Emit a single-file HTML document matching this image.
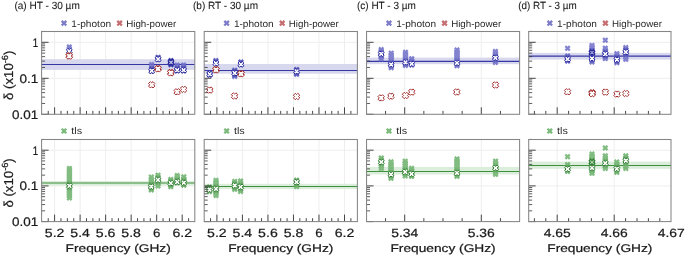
<!DOCTYPE html>
<html><head><meta charset="utf-8"><style>
html,body{margin:0;padding:0;background:#fff;}
body{width:685px;height:256px;overflow:hidden;font-family:"Liberation Sans", sans-serif;}
svg{display:block;will-change:transform;}
text{stroke:#1a1a1a;stroke-width:0.22px;}
text.lg{stroke:none;fill:#2a2a2a;}
text.tt{stroke-width:0.08px;}
</style></head><body>
<svg width="685" height="256" viewBox="0 0 685 256" font-family='"Liberation Sans", sans-serif' text-rendering="geometricPrecision">
<defs><path id="xs" d="M0.00 1.63L-1.37 3.00L-3.00 1.37L-1.63 0.00L-3.00 -1.37L-1.37 -3.00L0.00 -1.63L1.37 -3.00L3.00 -1.37L1.63 0.00L3.00 1.37L1.37 3.00Z"/><path id="xh" d="M0.00 1.56L-1.34 2.90L-2.90 1.34L-1.56 0.00L-2.90 -1.34L-1.34 -2.90L0.00 -1.56L1.34 -2.90L2.90 -1.34L1.56 0.00L2.90 1.34L1.34 2.90Z"/><path id="xr" d="M0.00 1.91L-1.29 3.20L-3.20 1.29L-1.91 0.00L-3.20 -1.29L-1.29 -3.20L0.00 -1.91L1.29 -3.20L3.20 -1.29L1.91 0.00L3.20 1.29L1.29 3.20Z"/></defs>
<rect width="685" height="256" fill="#ffffff"/>
<line x1="41.60" y1="42.30" x2="194.80" y2="42.30" stroke="#eeeeee" stroke-width="1"/>
<line x1="41.60" y1="78.30" x2="194.80" y2="78.30" stroke="#eeeeee" stroke-width="1"/>
<line x1="54.60" y1="31.50" x2="54.60" y2="114.30" stroke="#eeeeee" stroke-width="1"/>
<line x1="80.12" y1="31.50" x2="80.12" y2="114.30" stroke="#eeeeee" stroke-width="1"/>
<line x1="105.64" y1="31.50" x2="105.64" y2="114.30" stroke="#eeeeee" stroke-width="1"/>
<line x1="131.16" y1="31.50" x2="131.16" y2="114.30" stroke="#eeeeee" stroke-width="1"/>
<line x1="156.68" y1="31.50" x2="156.68" y2="114.30" stroke="#eeeeee" stroke-width="1"/>
<line x1="182.20" y1="31.50" x2="182.20" y2="114.30" stroke="#eeeeee" stroke-width="1"/>
<rect x="41.60" y="59.20" width="153.20" height="10.70" fill="#d7d7ed"/>
<line x1="41.60" y1="64.50" x2="194.80" y2="64.50" stroke="#3636a4" stroke-width="1.2"/>
<g fill="#7272ca" opacity="0.88">
<rect x="67.00" y="46.60" width="4.6" height="2.80"/>
<use href="#xs" x="69.30" y="47.00"/>
<use href="#xs" x="69.30" y="49.00"/>
</g>
<use href="#xh" x="69.30" y="51.20" fill="#ffffff" stroke="#25259c" stroke-width="1.00"/>
<g fill="#7272ca" opacity="0.88">
<rect x="149.40" y="64.10" width="4.6" height="7.60"/>
<use href="#xs" x="151.70" y="64.50"/>
<use href="#xs" x="151.70" y="66.77"/>
<use href="#xs" x="151.70" y="69.03"/>
<use href="#xs" x="151.70" y="71.30"/>
</g>
<use href="#xs" x="151.70" y="68.80" fill="#25259c" fill-opacity="0.45"/>
<use href="#xs" x="151.70" y="71.30" fill="#25259c" fill-opacity="0.45"/>
<use href="#xh" x="151.70" y="70.80" fill="#ffffff" stroke="#25259c" stroke-width="1.00"/>
<g fill="#7272ca" opacity="0.88">
<rect x="155.80" y="57.00" width="4.6" height="3.00"/>
<use href="#xs" x="158.10" y="57.40"/>
<use href="#xs" x="158.10" y="59.60"/>
</g>
<use href="#xs" x="158.10" y="57.40" fill="#25259c" fill-opacity="0.45"/>
<use href="#xs" x="158.10" y="59.60" fill="#25259c" fill-opacity="0.45"/>
<use href="#xh" x="158.10" y="59.10" fill="#ffffff" stroke="#25259c" stroke-width="1.00"/>
<g fill="#7272ca" opacity="0.88">
<rect x="168.70" y="60.70" width="4.6" height="4.10"/>
<use href="#xs" x="171.00" y="61.10"/>
<use href="#xs" x="171.00" y="62.75"/>
<use href="#xs" x="171.00" y="64.40"/>
</g>
<use href="#xs" x="171.00" y="60.50" fill="#25259c" fill-opacity="0.55"/>
<use href="#xs" x="171.00" y="64.60" fill="#25259c" fill-opacity="0.55"/>
<use href="#xs" x="171.00" y="61.10" fill="#25259c" fill-opacity="0.45"/>
<use href="#xs" x="171.00" y="64.40" fill="#25259c" fill-opacity="0.45"/>
<use href="#xh" x="171.00" y="62.40" fill="#ffffff" fill-opacity="0.75" stroke="#25259c" stroke-width="1.1"/>
<g fill="#7272ca" opacity="0.88">
<rect x="174.90" y="64.60" width="4.6" height="6.60"/>
<use href="#xs" x="177.20" y="65.00"/>
<use href="#xs" x="177.20" y="66.93"/>
<use href="#xs" x="177.20" y="68.87"/>
<use href="#xs" x="177.20" y="70.80"/>
</g>
<use href="#xs" x="177.20" y="68.20" fill="#25259c" fill-opacity="0.45"/>
<use href="#xs" x="177.20" y="70.80" fill="#25259c" fill-opacity="0.45"/>
<use href="#xh" x="177.20" y="70.20" fill="#ffffff" stroke="#25259c" stroke-width="1.00"/>
<g fill="#7272ca" opacity="0.88">
<rect x="181.30" y="64.60" width="4.6" height="6.60"/>
<use href="#xs" x="183.60" y="65.00"/>
<use href="#xs" x="183.60" y="66.93"/>
<use href="#xs" x="183.60" y="68.87"/>
<use href="#xs" x="183.60" y="70.80"/>
</g>
<use href="#xs" x="183.60" y="68.20" fill="#25259c" fill-opacity="0.45"/>
<use href="#xs" x="183.60" y="70.80" fill="#25259c" fill-opacity="0.45"/>
<use href="#xh" x="183.60" y="70.20" fill="#ffffff" stroke="#25259c" stroke-width="1.00"/>
<use href="#xr" x="69.30" y="55.60" fill="#ffffff" stroke="#a02e2e" stroke-width="1.00"/>
<use href="#xr" x="69.30" y="56.10" fill="#ffffff" stroke="#a02e2e" stroke-width="1.00"/>
<use href="#xr" x="151.70" y="84.80" fill="#ffffff" stroke="#a02e2e" stroke-width="1.00"/>
<use href="#xr" x="158.00" y="68.40" fill="#ffffff" stroke="#a02e2e" stroke-width="1.00"/>
<use href="#xr" x="158.00" y="68.90" fill="#ffffff" stroke="#a02e2e" stroke-width="1.00"/>
<use href="#xr" x="170.80" y="72.40" fill="#ffffff" stroke="#a02e2e" stroke-width="1.00"/>
<use href="#xr" x="170.80" y="72.90" fill="#ffffff" stroke="#a02e2e" stroke-width="1.00"/>
<use href="#xr" x="177.20" y="91.80" fill="#ffffff" stroke="#a02e2e" stroke-width="1.00"/>
<use href="#xr" x="183.60" y="89.40" fill="#ffffff" stroke="#a02e2e" stroke-width="1.00"/>
<line x1="41.60" y1="42.30" x2="48.60" y2="42.30" stroke="#333333" stroke-width="0.9"/>
<line x1="41.60" y1="78.30" x2="48.60" y2="78.30" stroke="#333333" stroke-width="0.9"/>
<line x1="41.60" y1="114.30" x2="48.60" y2="114.30" stroke="#333333" stroke-width="0.9"/>
<line x1="41.60" y1="103.46" x2="45.10" y2="103.46" stroke="#333333" stroke-width="0.8"/>
<line x1="41.60" y1="97.12" x2="45.10" y2="97.12" stroke="#333333" stroke-width="0.8"/>
<line x1="41.60" y1="92.63" x2="45.10" y2="92.63" stroke="#333333" stroke-width="0.8"/>
<line x1="41.60" y1="89.14" x2="45.10" y2="89.14" stroke="#333333" stroke-width="0.8"/>
<line x1="41.60" y1="86.29" x2="45.10" y2="86.29" stroke="#333333" stroke-width="0.8"/>
<line x1="41.60" y1="83.88" x2="45.10" y2="83.88" stroke="#333333" stroke-width="0.8"/>
<line x1="41.60" y1="81.79" x2="45.10" y2="81.79" stroke="#333333" stroke-width="0.8"/>
<line x1="41.60" y1="79.95" x2="45.10" y2="79.95" stroke="#333333" stroke-width="0.8"/>
<line x1="41.60" y1="67.46" x2="45.10" y2="67.46" stroke="#333333" stroke-width="0.8"/>
<line x1="41.60" y1="61.12" x2="45.10" y2="61.12" stroke="#333333" stroke-width="0.8"/>
<line x1="41.60" y1="56.63" x2="45.10" y2="56.63" stroke="#333333" stroke-width="0.8"/>
<line x1="41.60" y1="53.14" x2="45.10" y2="53.14" stroke="#333333" stroke-width="0.8"/>
<line x1="41.60" y1="50.29" x2="45.10" y2="50.29" stroke="#333333" stroke-width="0.8"/>
<line x1="41.60" y1="47.88" x2="45.10" y2="47.88" stroke="#333333" stroke-width="0.8"/>
<line x1="41.60" y1="45.79" x2="45.10" y2="45.79" stroke="#333333" stroke-width="0.8"/>
<line x1="41.60" y1="43.95" x2="45.10" y2="43.95" stroke="#333333" stroke-width="0.8"/>
<line x1="41.60" y1="31.46" x2="45.10" y2="31.46" stroke="#333333" stroke-width="0.8"/>
<line x1="48.22" y1="114.30" x2="48.22" y2="110.90" stroke="#333333" stroke-width="0.9"/>
<line x1="54.60" y1="114.30" x2="54.60" y2="107.30" stroke="#333333" stroke-width="0.9"/>
<line x1="60.98" y1="114.30" x2="60.98" y2="110.90" stroke="#333333" stroke-width="0.9"/>
<line x1="67.36" y1="114.30" x2="67.36" y2="110.90" stroke="#333333" stroke-width="0.9"/>
<line x1="73.74" y1="114.30" x2="73.74" y2="110.90" stroke="#333333" stroke-width="0.9"/>
<line x1="80.12" y1="114.30" x2="80.12" y2="107.30" stroke="#333333" stroke-width="0.9"/>
<line x1="86.50" y1="114.30" x2="86.50" y2="110.90" stroke="#333333" stroke-width="0.9"/>
<line x1="92.88" y1="114.30" x2="92.88" y2="110.90" stroke="#333333" stroke-width="0.9"/>
<line x1="99.26" y1="114.30" x2="99.26" y2="110.90" stroke="#333333" stroke-width="0.9"/>
<line x1="105.64" y1="114.30" x2="105.64" y2="107.30" stroke="#333333" stroke-width="0.9"/>
<line x1="112.02" y1="114.30" x2="112.02" y2="110.90" stroke="#333333" stroke-width="0.9"/>
<line x1="118.40" y1="114.30" x2="118.40" y2="110.90" stroke="#333333" stroke-width="0.9"/>
<line x1="124.78" y1="114.30" x2="124.78" y2="110.90" stroke="#333333" stroke-width="0.9"/>
<line x1="131.16" y1="114.30" x2="131.16" y2="107.30" stroke="#333333" stroke-width="0.9"/>
<line x1="137.54" y1="114.30" x2="137.54" y2="110.90" stroke="#333333" stroke-width="0.9"/>
<line x1="143.92" y1="114.30" x2="143.92" y2="110.90" stroke="#333333" stroke-width="0.9"/>
<line x1="150.30" y1="114.30" x2="150.30" y2="110.90" stroke="#333333" stroke-width="0.9"/>
<line x1="156.68" y1="114.30" x2="156.68" y2="107.30" stroke="#333333" stroke-width="0.9"/>
<line x1="163.06" y1="114.30" x2="163.06" y2="110.90" stroke="#333333" stroke-width="0.9"/>
<line x1="169.44" y1="114.30" x2="169.44" y2="110.90" stroke="#333333" stroke-width="0.9"/>
<line x1="175.82" y1="114.30" x2="175.82" y2="110.90" stroke="#333333" stroke-width="0.9"/>
<line x1="182.20" y1="114.30" x2="182.20" y2="107.30" stroke="#333333" stroke-width="0.9"/>
<line x1="188.58" y1="114.30" x2="188.58" y2="110.90" stroke="#333333" stroke-width="0.9"/>
<rect x="41.60" y="31.50" width="153.20" height="82.80" fill="none" stroke="#858585" stroke-width="1.05"/>
<polygon points="64.00,24.83 62.53,26.30 60.90,24.67 62.37,23.20 60.90,21.73 62.53,20.10 64.00,21.57 65.47,20.10 67.10,21.73 65.63,23.20 67.10,24.67 65.47,26.30" fill="#7c7cc8"/>
<text x="71.30" y="26.90" font-size="9.60" text-anchor="start" fill="#1a1a1a" textLength="39.8" lengthAdjust="spacingAndGlyphs" class="lg">1-photon</text>
<polygon points="119.60,24.83 118.13,26.30 116.50,24.67 117.97,23.20 116.50,21.73 118.13,20.10 119.60,21.57 121.07,20.10 122.70,21.73 121.23,23.20 122.70,24.67 121.07,26.30" fill="#c66e72"/>
<text x="126.20" y="26.90" font-size="9.60" text-anchor="start" fill="#1a1a1a" textLength="50.0" lengthAdjust="spacingAndGlyphs" class="lg">High-power</text>
<text x="38.20" y="47.00" font-size="12.40" text-anchor="end" fill="#1a1a1a" textLength="5.4" lengthAdjust="spacingAndGlyphs">1</text>
<text x="38.20" y="82.60" font-size="12.40" text-anchor="end" fill="#1a1a1a" textLength="18.8" lengthAdjust="spacingAndGlyphs">0.1</text>
<text x="38.20" y="118.50" font-size="12.40" text-anchor="end" fill="#1a1a1a" textLength="26.2" lengthAdjust="spacingAndGlyphs">0.01</text>
<text transform="translate(12.7,75.35) rotate(-90)" x="0" y="0" font-size="13" text-anchor="middle" fill="#1a1a1a" textLength="49.3" lengthAdjust="spacingAndGlyphs">δ (x10<tspan font-size="9" dy="-4.9">-6</tspan><tspan dy="4.9">)</tspan></text>
<line x1="204.20" y1="42.30" x2="357.40" y2="42.30" stroke="#eeeeee" stroke-width="1"/>
<line x1="204.20" y1="78.30" x2="357.40" y2="78.30" stroke="#eeeeee" stroke-width="1"/>
<line x1="216.90" y1="31.50" x2="216.90" y2="114.30" stroke="#eeeeee" stroke-width="1"/>
<line x1="242.42" y1="31.50" x2="242.42" y2="114.30" stroke="#eeeeee" stroke-width="1"/>
<line x1="267.94" y1="31.50" x2="267.94" y2="114.30" stroke="#eeeeee" stroke-width="1"/>
<line x1="293.46" y1="31.50" x2="293.46" y2="114.30" stroke="#eeeeee" stroke-width="1"/>
<line x1="318.98" y1="31.50" x2="318.98" y2="114.30" stroke="#eeeeee" stroke-width="1"/>
<line x1="344.50" y1="31.50" x2="344.50" y2="114.30" stroke="#eeeeee" stroke-width="1"/>
<rect x="204.20" y="64.00" width="153.20" height="9.70" fill="#d7d7ed"/>
<line x1="204.20" y1="70.50" x2="357.40" y2="70.50" stroke="#3636a4" stroke-width="1.2"/>
<g fill="#7272ca" opacity="0.88">
<rect x="207.40" y="73.20" width="4.6" height="2.20"/>
<use href="#xs" x="209.70" y="73.60"/>
<use href="#xs" x="209.70" y="75.00"/>
</g>
<use href="#xs" x="209.70" y="73.60" fill="#25259c" fill-opacity="0.45"/>
<use href="#xs" x="209.70" y="75.00" fill="#25259c" fill-opacity="0.45"/>
<use href="#xh" x="209.70" y="74.30" fill="#ffffff" stroke="#25259c" stroke-width="1.00"/>
<g fill="#7272ca" opacity="0.88">
<rect x="213.60" y="60.20" width="4.6" height="3.20"/>
<use href="#xs" x="215.90" y="60.60"/>
<use href="#xs" x="215.90" y="63.00"/>
</g>
<use href="#xs" x="215.90" y="61.30" fill="#25259c" fill-opacity="0.45"/>
<use href="#xs" x="215.90" y="63.00" fill="#25259c" fill-opacity="0.45"/>
<use href="#xh" x="215.90" y="63.30" fill="#ffffff" stroke="#25259c" stroke-width="1.00"/>
<g fill="#7272ca" opacity="0.88">
<rect x="232.40" y="69.80" width="4.6" height="7.00"/>
<use href="#xs" x="234.70" y="70.20"/>
<use href="#xs" x="234.70" y="72.27"/>
<use href="#xs" x="234.70" y="74.33"/>
<use href="#xs" x="234.70" y="76.40"/>
</g>
<use href="#xs" x="234.70" y="71.10" fill="#25259c" fill-opacity="0.45"/>
<use href="#xs" x="234.70" y="75.10" fill="#25259c" fill-opacity="0.45"/>
<use href="#xh" x="234.70" y="73.10" fill="#ffffff" stroke="#25259c" stroke-width="1.00"/>
<g fill="#7272ca" opacity="0.88">
<rect x="238.60" y="61.60" width="4.6" height="3.20"/>
<use href="#xs" x="240.90" y="62.00"/>
<use href="#xs" x="240.90" y="64.40"/>
</g>
<use href="#xs" x="240.90" y="62.40" fill="#25259c" fill-opacity="0.45"/>
<use href="#xs" x="240.90" y="64.40" fill="#25259c" fill-opacity="0.45"/>
<use href="#xh" x="240.90" y="64.40" fill="#ffffff" stroke="#25259c" stroke-width="1.00"/>
<g fill="#7272ca" opacity="0.88">
<rect x="294.30" y="69.30" width="4.6" height="5.40"/>
<use href="#xs" x="296.60" y="69.70"/>
<use href="#xs" x="296.60" y="72.00"/>
<use href="#xs" x="296.60" y="74.30"/>
</g>
<use href="#xs" x="296.60" y="69.70" fill="#25259c" fill-opacity="0.45"/>
<use href="#xs" x="296.60" y="73.40" fill="#25259c" fill-opacity="0.45"/>
<use href="#xh" x="296.60" y="71.40" fill="#ffffff" stroke="#25259c" stroke-width="1.00"/>
<use href="#xr" x="209.80" y="90.10" fill="#ffffff" stroke="#a02e2e" stroke-width="1.00"/>
<use href="#xr" x="216.00" y="69.40" fill="#ffffff" stroke="#a02e2e" stroke-width="1.00"/>
<use href="#xr" x="216.00" y="69.90" fill="#ffffff" stroke="#a02e2e" stroke-width="1.00"/>
<use href="#xr" x="234.60" y="96.00" fill="#ffffff" stroke="#a02e2e" stroke-width="1.00"/>
<use href="#xr" x="241.00" y="73.40" fill="#ffffff" stroke="#a02e2e" stroke-width="1.00"/>
<use href="#xr" x="241.00" y="73.90" fill="#ffffff" stroke="#a02e2e" stroke-width="1.00"/>
<use href="#xr" x="296.60" y="96.50" fill="#ffffff" stroke="#a02e2e" stroke-width="1.00"/>
<line x1="204.20" y1="42.30" x2="211.20" y2="42.30" stroke="#333333" stroke-width="0.9"/>
<line x1="204.20" y1="78.30" x2="211.20" y2="78.30" stroke="#333333" stroke-width="0.9"/>
<line x1="204.20" y1="114.30" x2="211.20" y2="114.30" stroke="#333333" stroke-width="0.9"/>
<line x1="204.20" y1="103.46" x2="207.70" y2="103.46" stroke="#333333" stroke-width="0.8"/>
<line x1="204.20" y1="97.12" x2="207.70" y2="97.12" stroke="#333333" stroke-width="0.8"/>
<line x1="204.20" y1="92.63" x2="207.70" y2="92.63" stroke="#333333" stroke-width="0.8"/>
<line x1="204.20" y1="89.14" x2="207.70" y2="89.14" stroke="#333333" stroke-width="0.8"/>
<line x1="204.20" y1="86.29" x2="207.70" y2="86.29" stroke="#333333" stroke-width="0.8"/>
<line x1="204.20" y1="83.88" x2="207.70" y2="83.88" stroke="#333333" stroke-width="0.8"/>
<line x1="204.20" y1="81.79" x2="207.70" y2="81.79" stroke="#333333" stroke-width="0.8"/>
<line x1="204.20" y1="79.95" x2="207.70" y2="79.95" stroke="#333333" stroke-width="0.8"/>
<line x1="204.20" y1="67.46" x2="207.70" y2="67.46" stroke="#333333" stroke-width="0.8"/>
<line x1="204.20" y1="61.12" x2="207.70" y2="61.12" stroke="#333333" stroke-width="0.8"/>
<line x1="204.20" y1="56.63" x2="207.70" y2="56.63" stroke="#333333" stroke-width="0.8"/>
<line x1="204.20" y1="53.14" x2="207.70" y2="53.14" stroke="#333333" stroke-width="0.8"/>
<line x1="204.20" y1="50.29" x2="207.70" y2="50.29" stroke="#333333" stroke-width="0.8"/>
<line x1="204.20" y1="47.88" x2="207.70" y2="47.88" stroke="#333333" stroke-width="0.8"/>
<line x1="204.20" y1="45.79" x2="207.70" y2="45.79" stroke="#333333" stroke-width="0.8"/>
<line x1="204.20" y1="43.95" x2="207.70" y2="43.95" stroke="#333333" stroke-width="0.8"/>
<line x1="204.20" y1="31.46" x2="207.70" y2="31.46" stroke="#333333" stroke-width="0.8"/>
<line x1="210.52" y1="114.30" x2="210.52" y2="110.90" stroke="#333333" stroke-width="0.9"/>
<line x1="216.90" y1="114.30" x2="216.90" y2="107.30" stroke="#333333" stroke-width="0.9"/>
<line x1="223.28" y1="114.30" x2="223.28" y2="110.90" stroke="#333333" stroke-width="0.9"/>
<line x1="229.66" y1="114.30" x2="229.66" y2="110.90" stroke="#333333" stroke-width="0.9"/>
<line x1="236.04" y1="114.30" x2="236.04" y2="110.90" stroke="#333333" stroke-width="0.9"/>
<line x1="242.42" y1="114.30" x2="242.42" y2="107.30" stroke="#333333" stroke-width="0.9"/>
<line x1="248.80" y1="114.30" x2="248.80" y2="110.90" stroke="#333333" stroke-width="0.9"/>
<line x1="255.18" y1="114.30" x2="255.18" y2="110.90" stroke="#333333" stroke-width="0.9"/>
<line x1="261.56" y1="114.30" x2="261.56" y2="110.90" stroke="#333333" stroke-width="0.9"/>
<line x1="267.94" y1="114.30" x2="267.94" y2="107.30" stroke="#333333" stroke-width="0.9"/>
<line x1="274.32" y1="114.30" x2="274.32" y2="110.90" stroke="#333333" stroke-width="0.9"/>
<line x1="280.70" y1="114.30" x2="280.70" y2="110.90" stroke="#333333" stroke-width="0.9"/>
<line x1="287.08" y1="114.30" x2="287.08" y2="110.90" stroke="#333333" stroke-width="0.9"/>
<line x1="293.46" y1="114.30" x2="293.46" y2="107.30" stroke="#333333" stroke-width="0.9"/>
<line x1="299.84" y1="114.30" x2="299.84" y2="110.90" stroke="#333333" stroke-width="0.9"/>
<line x1="306.22" y1="114.30" x2="306.22" y2="110.90" stroke="#333333" stroke-width="0.9"/>
<line x1="312.60" y1="114.30" x2="312.60" y2="110.90" stroke="#333333" stroke-width="0.9"/>
<line x1="318.98" y1="114.30" x2="318.98" y2="107.30" stroke="#333333" stroke-width="0.9"/>
<line x1="325.36" y1="114.30" x2="325.36" y2="110.90" stroke="#333333" stroke-width="0.9"/>
<line x1="331.74" y1="114.30" x2="331.74" y2="110.90" stroke="#333333" stroke-width="0.9"/>
<line x1="338.12" y1="114.30" x2="338.12" y2="110.90" stroke="#333333" stroke-width="0.9"/>
<line x1="344.50" y1="114.30" x2="344.50" y2="107.30" stroke="#333333" stroke-width="0.9"/>
<line x1="350.88" y1="114.30" x2="350.88" y2="110.90" stroke="#333333" stroke-width="0.9"/>
<rect x="204.20" y="31.50" width="153.20" height="82.80" fill="none" stroke="#858585" stroke-width="1.05"/>
<polygon points="226.60,24.83 225.13,26.30 223.50,24.67 224.97,23.20 223.50,21.73 225.13,20.10 226.60,21.57 228.07,20.10 229.70,21.73 228.23,23.20 229.70,24.67 228.07,26.30" fill="#7c7cc8"/>
<text x="233.90" y="26.90" font-size="9.60" text-anchor="start" fill="#1a1a1a" textLength="39.8" lengthAdjust="spacingAndGlyphs" class="lg">1-photon</text>
<polygon points="282.20,24.83 280.73,26.30 279.10,24.67 280.57,23.20 279.10,21.73 280.73,20.10 282.20,21.57 283.67,20.10 285.30,21.73 283.83,23.20 285.30,24.67 283.67,26.30" fill="#c66e72"/>
<text x="288.80" y="26.90" font-size="9.60" text-anchor="start" fill="#1a1a1a" textLength="50.0" lengthAdjust="spacingAndGlyphs" class="lg">High-power</text>
<line x1="366.55" y1="42.30" x2="519.60" y2="42.30" stroke="#eeeeee" stroke-width="1"/>
<line x1="366.55" y1="78.30" x2="519.60" y2="78.30" stroke="#eeeeee" stroke-width="1"/>
<line x1="404.70" y1="31.50" x2="404.70" y2="114.30" stroke="#eeeeee" stroke-width="1"/>
<line x1="481.30" y1="31.50" x2="481.30" y2="114.30" stroke="#eeeeee" stroke-width="1"/>
<rect x="366.55" y="57.60" width="153.05" height="6.60" fill="#d7d7ed"/>
<line x1="366.55" y1="61.30" x2="519.60" y2="61.30" stroke="#3636a4" stroke-width="1.2"/>
<g fill="#7272ca" opacity="0.88">
<rect x="378.90" y="49.20" width="4.6" height="10.10"/>
<use href="#xs" x="381.20" y="49.60"/>
<use href="#xs" x="381.20" y="51.46"/>
<use href="#xs" x="381.20" y="53.32"/>
<use href="#xs" x="381.20" y="55.18"/>
<use href="#xs" x="381.20" y="57.04"/>
<use href="#xs" x="381.20" y="58.90"/>
</g>
<use href="#xs" x="381.20" y="51.80" fill="#25259c" fill-opacity="0.16"/>
<use href="#xs" x="381.20" y="55.80" fill="#25259c" fill-opacity="0.16"/>
<use href="#xh" x="381.20" y="53.80" fill="#ffffff" stroke="#25259c" stroke-width="1.00"/>
<g fill="#7272ca" opacity="0.88">
<rect x="388.90" y="52.80" width="4.6" height="15.30"/>
<use href="#xs" x="391.20" y="53.20"/>
<use href="#xs" x="391.20" y="55.27"/>
<use href="#xs" x="391.20" y="57.34"/>
<use href="#xs" x="391.20" y="59.41"/>
<use href="#xs" x="391.20" y="61.49"/>
<use href="#xs" x="391.20" y="63.56"/>
<use href="#xs" x="391.20" y="65.63"/>
<use href="#xs" x="391.20" y="67.70"/>
</g>
<use href="#xs" x="391.20" y="62.50" fill="#25259c" fill-opacity="0.16"/>
<use href="#xs" x="391.20" y="66.50" fill="#25259c" fill-opacity="0.16"/>
<use href="#xh" x="391.20" y="64.50" fill="#ffffff" stroke="#25259c" stroke-width="1.00"/>
<g fill="#7272ca" opacity="0.88">
<rect x="403.20" y="51.90" width="4.6" height="13.90"/>
<use href="#xs" x="405.50" y="52.30"/>
<use href="#xs" x="405.50" y="54.17"/>
<use href="#xs" x="405.50" y="56.04"/>
<use href="#xs" x="405.50" y="57.91"/>
<use href="#xs" x="405.50" y="59.79"/>
<use href="#xs" x="405.50" y="61.66"/>
<use href="#xs" x="405.50" y="63.53"/>
<use href="#xs" x="405.50" y="65.40"/>
</g>
<use href="#xs" x="405.50" y="60.40" fill="#25259c" fill-opacity="0.16"/>
<use href="#xs" x="405.50" y="64.40" fill="#25259c" fill-opacity="0.16"/>
<use href="#xh" x="405.50" y="62.40" fill="#ffffff" stroke="#25259c" stroke-width="1.00"/>
<g fill="#7272ca" opacity="0.88">
<rect x="409.40" y="58.30" width="4.6" height="7.10"/>
<use href="#xs" x="411.70" y="58.70"/>
<use href="#xs" x="411.70" y="60.80"/>
<use href="#xs" x="411.70" y="62.90"/>
<use href="#xs" x="411.70" y="65.00"/>
</g>
<use href="#xs" x="411.70" y="61.80" fill="#25259c" fill-opacity="0.16"/>
<use href="#xs" x="411.70" y="65.00" fill="#25259c" fill-opacity="0.16"/>
<use href="#xh" x="411.70" y="63.80" fill="#ffffff" stroke="#25259c" stroke-width="1.00"/>
<g fill="#7272ca" opacity="0.88">
<rect x="454.70" y="49.50" width="4.6" height="16.60"/>
<use href="#xs" x="457.00" y="49.90"/>
<use href="#xs" x="457.00" y="51.88"/>
<use href="#xs" x="457.00" y="53.85"/>
<use href="#xs" x="457.00" y="55.83"/>
<use href="#xs" x="457.00" y="57.80"/>
<use href="#xs" x="457.00" y="59.78"/>
<use href="#xs" x="457.00" y="61.75"/>
<use href="#xs" x="457.00" y="63.73"/>
<use href="#xs" x="457.00" y="65.70"/>
</g>
<use href="#xs" x="457.00" y="61.00" fill="#25259c" fill-opacity="0.16"/>
<use href="#xs" x="457.00" y="65.00" fill="#25259c" fill-opacity="0.16"/>
<use href="#xh" x="457.00" y="63.00" fill="#ffffff" stroke="#25259c" stroke-width="1.00"/>
<g fill="#7272ca" opacity="0.88">
<rect x="493.10" y="51.00" width="4.6" height="11.80"/>
<use href="#xs" x="495.40" y="51.40"/>
<use href="#xs" x="495.40" y="53.23"/>
<use href="#xs" x="495.40" y="55.07"/>
<use href="#xs" x="495.40" y="56.90"/>
<use href="#xs" x="495.40" y="58.73"/>
<use href="#xs" x="495.40" y="60.57"/>
<use href="#xs" x="495.40" y="62.40"/>
</g>
<use href="#xs" x="495.40" y="55.80" fill="#25259c" fill-opacity="0.16"/>
<use href="#xs" x="495.40" y="59.80" fill="#25259c" fill-opacity="0.16"/>
<use href="#xh" x="495.40" y="57.80" fill="#ffffff" stroke="#25259c" stroke-width="1.00"/>
<use href="#xr" x="381.20" y="97.90" fill="#ffffff" stroke="#a02e2e" stroke-width="1.00"/>
<use href="#xr" x="390.90" y="96.20" fill="#ffffff" stroke="#a02e2e" stroke-width="1.00"/>
<use href="#xr" x="405.50" y="95.50" fill="#ffffff" stroke="#a02e2e" stroke-width="1.00"/>
<use href="#xr" x="411.70" y="92.10" fill="#ffffff" stroke="#a02e2e" stroke-width="1.00"/>
<use href="#xr" x="456.80" y="92.00" fill="#ffffff" stroke="#a02e2e" stroke-width="1.00"/>
<use href="#xr" x="495.50" y="85.00" fill="#ffffff" stroke="#a02e2e" stroke-width="1.00"/>
<line x1="366.55" y1="42.30" x2="373.55" y2="42.30" stroke="#333333" stroke-width="0.9"/>
<line x1="366.55" y1="78.30" x2="373.55" y2="78.30" stroke="#333333" stroke-width="0.9"/>
<line x1="366.55" y1="114.30" x2="373.55" y2="114.30" stroke="#333333" stroke-width="0.9"/>
<line x1="366.55" y1="103.46" x2="370.05" y2="103.46" stroke="#333333" stroke-width="0.8"/>
<line x1="366.55" y1="97.12" x2="370.05" y2="97.12" stroke="#333333" stroke-width="0.8"/>
<line x1="366.55" y1="92.63" x2="370.05" y2="92.63" stroke="#333333" stroke-width="0.8"/>
<line x1="366.55" y1="89.14" x2="370.05" y2="89.14" stroke="#333333" stroke-width="0.8"/>
<line x1="366.55" y1="86.29" x2="370.05" y2="86.29" stroke="#333333" stroke-width="0.8"/>
<line x1="366.55" y1="83.88" x2="370.05" y2="83.88" stroke="#333333" stroke-width="0.8"/>
<line x1="366.55" y1="81.79" x2="370.05" y2="81.79" stroke="#333333" stroke-width="0.8"/>
<line x1="366.55" y1="79.95" x2="370.05" y2="79.95" stroke="#333333" stroke-width="0.8"/>
<line x1="366.55" y1="67.46" x2="370.05" y2="67.46" stroke="#333333" stroke-width="0.8"/>
<line x1="366.55" y1="61.12" x2="370.05" y2="61.12" stroke="#333333" stroke-width="0.8"/>
<line x1="366.55" y1="56.63" x2="370.05" y2="56.63" stroke="#333333" stroke-width="0.8"/>
<line x1="366.55" y1="53.14" x2="370.05" y2="53.14" stroke="#333333" stroke-width="0.8"/>
<line x1="366.55" y1="50.29" x2="370.05" y2="50.29" stroke="#333333" stroke-width="0.8"/>
<line x1="366.55" y1="47.88" x2="370.05" y2="47.88" stroke="#333333" stroke-width="0.8"/>
<line x1="366.55" y1="45.79" x2="370.05" y2="45.79" stroke="#333333" stroke-width="0.8"/>
<line x1="366.55" y1="43.95" x2="370.05" y2="43.95" stroke="#333333" stroke-width="0.8"/>
<line x1="366.55" y1="31.46" x2="370.05" y2="31.46" stroke="#333333" stroke-width="0.8"/>
<line x1="385.55" y1="114.30" x2="385.55" y2="110.90" stroke="#333333" stroke-width="0.9"/>
<line x1="404.70" y1="114.30" x2="404.70" y2="107.30" stroke="#333333" stroke-width="0.9"/>
<line x1="423.85" y1="114.30" x2="423.85" y2="110.90" stroke="#333333" stroke-width="0.9"/>
<line x1="443.00" y1="114.30" x2="443.00" y2="110.90" stroke="#333333" stroke-width="0.9"/>
<line x1="462.15" y1="114.30" x2="462.15" y2="110.90" stroke="#333333" stroke-width="0.9"/>
<line x1="481.30" y1="114.30" x2="481.30" y2="107.30" stroke="#333333" stroke-width="0.9"/>
<line x1="500.45" y1="114.30" x2="500.45" y2="110.90" stroke="#333333" stroke-width="0.9"/>
<rect x="366.55" y="31.50" width="153.05" height="82.80" fill="none" stroke="#858585" stroke-width="1.05"/>
<polygon points="388.95,24.83 387.48,26.30 385.85,24.67 387.32,23.20 385.85,21.73 387.48,20.10 388.95,21.57 390.42,20.10 392.05,21.73 390.58,23.20 392.05,24.67 390.42,26.30" fill="#7c7cc8"/>
<text x="396.25" y="26.90" font-size="9.60" text-anchor="start" fill="#1a1a1a" textLength="39.8" lengthAdjust="spacingAndGlyphs" class="lg">1-photon</text>
<polygon points="444.55,24.83 443.08,26.30 441.45,24.67 442.92,23.20 441.45,21.73 443.08,20.10 444.55,21.57 446.02,20.10 447.65,21.73 446.18,23.20 447.65,24.67 446.02,26.30" fill="#c66e72"/>
<text x="451.15" y="26.90" font-size="9.60" text-anchor="start" fill="#1a1a1a" textLength="50.0" lengthAdjust="spacingAndGlyphs" class="lg">High-power</text>
<line x1="528.70" y1="42.30" x2="671.00" y2="42.30" stroke="#eeeeee" stroke-width="1"/>
<line x1="528.70" y1="78.30" x2="671.00" y2="78.30" stroke="#eeeeee" stroke-width="1"/>
<line x1="557.20" y1="31.50" x2="557.20" y2="114.30" stroke="#eeeeee" stroke-width="1"/>
<line x1="614.20" y1="31.50" x2="614.20" y2="114.30" stroke="#eeeeee" stroke-width="1"/>
<rect x="528.70" y="52.90" width="142.30" height="6.70" fill="#d7d7ed"/>
<line x1="528.70" y1="56.20" x2="671.00" y2="56.20" stroke="#3636a4" stroke-width="1.2"/>
<g fill="#7272ca" opacity="0.88">
<use href="#xs" x="567.60" y="48.30"/>
<rect x="565.30" y="55.60" width="4.6" height="5.70"/>
<use href="#xs" x="567.60" y="56.00"/>
<use href="#xs" x="567.60" y="58.45"/>
<use href="#xs" x="567.60" y="60.90"/>
</g>
<use href="#xs" x="567.60" y="57.20" fill="#25259c" fill-opacity="0.36"/>
<use href="#xs" x="567.60" y="60.90" fill="#25259c" fill-opacity="0.36"/>
<use href="#xh" x="567.60" y="59.20" fill="#ffffff" stroke="#25259c" stroke-width="1.00"/>
<g fill="#7272ca" opacity="0.88">
<rect x="589.70" y="45.00" width="4.6" height="17.40"/>
<use href="#xs" x="592.00" y="45.40"/>
<use href="#xs" x="592.00" y="47.48"/>
<use href="#xs" x="592.00" y="49.55"/>
<use href="#xs" x="592.00" y="51.62"/>
<use href="#xs" x="592.00" y="53.70"/>
<use href="#xs" x="592.00" y="55.77"/>
<use href="#xs" x="592.00" y="57.85"/>
<use href="#xs" x="592.00" y="59.92"/>
<use href="#xs" x="592.00" y="62.00"/>
</g>
<use href="#xs" x="592.00" y="50.60" fill="#25259c" fill-opacity="0.36"/>
<use href="#xs" x="592.00" y="54.60" fill="#25259c" fill-opacity="0.36"/>
<use href="#xs" x="592.00" y="56.50" fill="#25259c" fill-opacity="0.36"/>
<use href="#xs" x="592.00" y="60.50" fill="#25259c" fill-opacity="0.36"/>
<use href="#xh" x="592.00" y="52.60" fill="#ffffff" fill-opacity="0.45" stroke="#25259c" stroke-width="1.1"/>
<use href="#xh" x="592.00" y="58.50" fill="#ffffff" stroke="#25259c" stroke-width="1.00"/>
<g fill="#7272ca" opacity="0.88">
<use href="#xs" x="605.30" y="40.20"/>
<rect x="603.00" y="47.80" width="4.6" height="11.20"/>
<use href="#xs" x="605.30" y="48.20"/>
<use href="#xs" x="605.30" y="50.28"/>
<use href="#xs" x="605.30" y="52.36"/>
<use href="#xs" x="605.30" y="54.44"/>
<use href="#xs" x="605.30" y="56.52"/>
<use href="#xs" x="605.30" y="58.60"/>
</g>
<use href="#xs" x="605.30" y="52.10" fill="#25259c" fill-opacity="0.36"/>
<use href="#xs" x="605.30" y="56.10" fill="#25259c" fill-opacity="0.36"/>
<use href="#xh" x="605.30" y="54.10" fill="#ffffff" stroke="#25259c" stroke-width="1.00"/>
<g fill="#7272ca" opacity="0.88">
<rect x="614.60" y="53.30" width="4.6" height="9.80"/>
<use href="#xs" x="616.90" y="53.70"/>
<use href="#xs" x="616.90" y="55.95"/>
<use href="#xs" x="616.90" y="58.20"/>
<use href="#xs" x="616.90" y="60.45"/>
<use href="#xs" x="616.90" y="62.70"/>
</g>
<use href="#xs" x="616.90" y="57.60" fill="#25259c" fill-opacity="0.36"/>
<use href="#xs" x="616.90" y="61.60" fill="#25259c" fill-opacity="0.36"/>
<use href="#xh" x="616.90" y="59.60" fill="#ffffff" stroke="#25259c" stroke-width="1.00"/>
<g fill="#7272ca" opacity="0.88">
<rect x="623.50" y="47.20" width="4.6" height="12.50"/>
<use href="#xs" x="625.80" y="47.60"/>
<use href="#xs" x="625.80" y="49.55"/>
<use href="#xs" x="625.80" y="51.50"/>
<use href="#xs" x="625.80" y="53.45"/>
<use href="#xs" x="625.80" y="55.40"/>
<use href="#xs" x="625.80" y="57.35"/>
<use href="#xs" x="625.80" y="59.30"/>
</g>
<use href="#xs" x="625.80" y="50.10" fill="#25259c" fill-opacity="0.36"/>
<use href="#xs" x="625.80" y="54.10" fill="#25259c" fill-opacity="0.36"/>
<use href="#xh" x="625.80" y="52.10" fill="#ffffff" stroke="#25259c" stroke-width="1.00"/>
<use href="#xr" x="567.60" y="91.80" fill="#ffffff" stroke="#a02e2e" stroke-width="1.00"/>
<use href="#xr" x="592.20" y="92.70" fill="#ffffff" stroke="#a02e2e" stroke-width="1.00"/>
<use href="#xr" x="592.20" y="93.20" fill="#ffffff" stroke="#a02e2e" stroke-width="1.00"/>
<use href="#xr" x="592.20" y="93.70" fill="#ffffff" stroke="#a02e2e" stroke-width="1.00"/>
<use href="#xr" x="605.40" y="92.10" fill="#ffffff" stroke="#a02e2e" stroke-width="1.00"/>
<use href="#xr" x="617.00" y="94.10" fill="#ffffff" stroke="#a02e2e" stroke-width="1.00"/>
<use href="#xr" x="625.80" y="93.50" fill="#ffffff" stroke="#a02e2e" stroke-width="1.00"/>
<line x1="528.70" y1="42.30" x2="535.70" y2="42.30" stroke="#333333" stroke-width="0.9"/>
<line x1="528.70" y1="78.30" x2="535.70" y2="78.30" stroke="#333333" stroke-width="0.9"/>
<line x1="528.70" y1="114.30" x2="535.70" y2="114.30" stroke="#333333" stroke-width="0.9"/>
<line x1="528.70" y1="103.46" x2="532.20" y2="103.46" stroke="#333333" stroke-width="0.8"/>
<line x1="528.70" y1="97.12" x2="532.20" y2="97.12" stroke="#333333" stroke-width="0.8"/>
<line x1="528.70" y1="92.63" x2="532.20" y2="92.63" stroke="#333333" stroke-width="0.8"/>
<line x1="528.70" y1="89.14" x2="532.20" y2="89.14" stroke="#333333" stroke-width="0.8"/>
<line x1="528.70" y1="86.29" x2="532.20" y2="86.29" stroke="#333333" stroke-width="0.8"/>
<line x1="528.70" y1="83.88" x2="532.20" y2="83.88" stroke="#333333" stroke-width="0.8"/>
<line x1="528.70" y1="81.79" x2="532.20" y2="81.79" stroke="#333333" stroke-width="0.8"/>
<line x1="528.70" y1="79.95" x2="532.20" y2="79.95" stroke="#333333" stroke-width="0.8"/>
<line x1="528.70" y1="67.46" x2="532.20" y2="67.46" stroke="#333333" stroke-width="0.8"/>
<line x1="528.70" y1="61.12" x2="532.20" y2="61.12" stroke="#333333" stroke-width="0.8"/>
<line x1="528.70" y1="56.63" x2="532.20" y2="56.63" stroke="#333333" stroke-width="0.8"/>
<line x1="528.70" y1="53.14" x2="532.20" y2="53.14" stroke="#333333" stroke-width="0.8"/>
<line x1="528.70" y1="50.29" x2="532.20" y2="50.29" stroke="#333333" stroke-width="0.8"/>
<line x1="528.70" y1="47.88" x2="532.20" y2="47.88" stroke="#333333" stroke-width="0.8"/>
<line x1="528.70" y1="45.79" x2="532.20" y2="45.79" stroke="#333333" stroke-width="0.8"/>
<line x1="528.70" y1="43.95" x2="532.20" y2="43.95" stroke="#333333" stroke-width="0.8"/>
<line x1="528.70" y1="31.46" x2="532.20" y2="31.46" stroke="#333333" stroke-width="0.8"/>
<line x1="534.40" y1="114.30" x2="534.40" y2="110.90" stroke="#333333" stroke-width="0.9"/>
<line x1="545.80" y1="114.30" x2="545.80" y2="110.90" stroke="#333333" stroke-width="0.9"/>
<line x1="557.20" y1="114.30" x2="557.20" y2="107.30" stroke="#333333" stroke-width="0.9"/>
<line x1="568.60" y1="114.30" x2="568.60" y2="110.90" stroke="#333333" stroke-width="0.9"/>
<line x1="580.00" y1="114.30" x2="580.00" y2="110.90" stroke="#333333" stroke-width="0.9"/>
<line x1="591.40" y1="114.30" x2="591.40" y2="110.90" stroke="#333333" stroke-width="0.9"/>
<line x1="602.80" y1="114.30" x2="602.80" y2="110.90" stroke="#333333" stroke-width="0.9"/>
<line x1="614.20" y1="114.30" x2="614.20" y2="107.30" stroke="#333333" stroke-width="0.9"/>
<line x1="625.60" y1="114.30" x2="625.60" y2="110.90" stroke="#333333" stroke-width="0.9"/>
<line x1="637.00" y1="114.30" x2="637.00" y2="110.90" stroke="#333333" stroke-width="0.9"/>
<line x1="648.40" y1="114.30" x2="648.40" y2="110.90" stroke="#333333" stroke-width="0.9"/>
<line x1="659.80" y1="114.30" x2="659.80" y2="110.90" stroke="#333333" stroke-width="0.9"/>
<rect x="528.70" y="31.50" width="142.30" height="82.80" fill="none" stroke="#858585" stroke-width="1.05"/>
<polygon points="549.80,24.83 548.33,26.30 546.70,24.67 548.17,23.20 546.70,21.73 548.33,20.10 549.80,21.57 551.27,20.10 552.90,21.73 551.43,23.20 552.90,24.67 551.27,26.30" fill="#7c7cc8"/>
<text x="557.10" y="26.90" font-size="9.60" text-anchor="start" fill="#1a1a1a" textLength="39.8" lengthAdjust="spacingAndGlyphs" class="lg">1-photon</text>
<polygon points="605.40,24.83 603.93,26.30 602.30,24.67 603.77,23.20 602.30,21.73 603.93,20.10 605.40,21.57 606.87,20.10 608.50,21.73 607.03,23.20 608.50,24.67 606.87,26.30" fill="#c66e72"/>
<text x="612.00" y="26.90" font-size="9.60" text-anchor="start" fill="#1a1a1a" textLength="50.0" lengthAdjust="spacingAndGlyphs" class="lg">High-power</text>
<line x1="41.60" y1="150.20" x2="194.80" y2="150.20" stroke="#eeeeee" stroke-width="1"/>
<line x1="41.60" y1="185.90" x2="194.80" y2="185.90" stroke="#eeeeee" stroke-width="1"/>
<line x1="54.60" y1="139.50" x2="54.60" y2="221.60" stroke="#eeeeee" stroke-width="1"/>
<line x1="80.12" y1="139.50" x2="80.12" y2="221.60" stroke="#eeeeee" stroke-width="1"/>
<line x1="105.64" y1="139.50" x2="105.64" y2="221.60" stroke="#eeeeee" stroke-width="1"/>
<line x1="131.16" y1="139.50" x2="131.16" y2="221.60" stroke="#eeeeee" stroke-width="1"/>
<line x1="156.68" y1="139.50" x2="156.68" y2="221.60" stroke="#eeeeee" stroke-width="1"/>
<line x1="182.20" y1="139.50" x2="182.20" y2="221.60" stroke="#eeeeee" stroke-width="1"/>
<rect x="41.60" y="181.00" width="153.20" height="4.60" fill="#dbeddb"/>
<line x1="41.60" y1="183.00" x2="194.80" y2="183.00" stroke="#3f8f3f" stroke-width="1.2"/>
<g fill="#74b574" opacity="0.90">
<rect x="67.10" y="168.00" width="4.6" height="30.30"/>
<use href="#xs" x="69.40" y="168.40"/>
<use href="#xs" x="69.40" y="170.37"/>
<use href="#xs" x="69.40" y="172.33"/>
<use href="#xs" x="69.40" y="174.30"/>
<use href="#xs" x="69.40" y="176.27"/>
<use href="#xs" x="69.40" y="178.23"/>
<use href="#xs" x="69.40" y="180.20"/>
<use href="#xs" x="69.40" y="182.17"/>
<use href="#xs" x="69.40" y="184.13"/>
<use href="#xs" x="69.40" y="186.10"/>
<use href="#xs" x="69.40" y="188.07"/>
<use href="#xs" x="69.40" y="190.03"/>
<use href="#xs" x="69.40" y="192.00"/>
<use href="#xs" x="69.40" y="193.97"/>
<use href="#xs" x="69.40" y="195.93"/>
<use href="#xs" x="69.40" y="197.90"/>
</g>
<use href="#xs" x="69.40" y="183.80" fill="#2e7c2e" fill-opacity="0.25"/>
<use href="#xs" x="69.40" y="187.80" fill="#2e7c2e" fill-opacity="0.25"/>
<use href="#xh" x="69.40" y="185.80" fill="#ffffff" stroke="#2e7c2e" stroke-width="1.00"/>
<g fill="#74b574" opacity="0.90">
<rect x="149.00" y="176.70" width="4.6" height="13.60"/>
<use href="#xs" x="151.30" y="177.10"/>
<use href="#xs" x="151.30" y="179.23"/>
<use href="#xs" x="151.30" y="181.37"/>
<use href="#xs" x="151.30" y="183.50"/>
<use href="#xs" x="151.30" y="185.63"/>
<use href="#xs" x="151.30" y="187.77"/>
<use href="#xs" x="151.30" y="189.90"/>
</g>
<use href="#xs" x="151.30" y="184.60" fill="#2e7c2e" fill-opacity="0.25"/>
<use href="#xs" x="151.30" y="188.60" fill="#2e7c2e" fill-opacity="0.25"/>
<use href="#xh" x="151.30" y="186.60" fill="#ffffff" stroke="#2e7c2e" stroke-width="1.00"/>
<g fill="#74b574" opacity="0.90">
<rect x="155.70" y="174.80" width="4.6" height="11.60"/>
<use href="#xs" x="158.00" y="175.20"/>
<use href="#xs" x="158.00" y="177.36"/>
<use href="#xs" x="158.00" y="179.52"/>
<use href="#xs" x="158.00" y="181.68"/>
<use href="#xs" x="158.00" y="183.84"/>
<use href="#xs" x="158.00" y="186.00"/>
</g>
<use href="#xs" x="158.00" y="177.90" fill="#2e7c2e" fill-opacity="0.25"/>
<use href="#xs" x="158.00" y="181.90" fill="#2e7c2e" fill-opacity="0.25"/>
<use href="#xh" x="158.00" y="179.90" fill="#ffffff" stroke="#2e7c2e" stroke-width="1.00"/>
<g fill="#74b574" opacity="0.90">
<rect x="168.50" y="179.00" width="4.6" height="8.10"/>
<use href="#xs" x="170.80" y="179.40"/>
<use href="#xs" x="170.80" y="181.22"/>
<use href="#xs" x="170.80" y="183.05"/>
<use href="#xs" x="170.80" y="184.88"/>
<use href="#xs" x="170.80" y="186.70"/>
</g>
<use href="#xs" x="170.80" y="181.20" fill="#2e7c2e" fill-opacity="0.25"/>
<use href="#xs" x="170.80" y="185.20" fill="#2e7c2e" fill-opacity="0.25"/>
<use href="#xh" x="170.80" y="183.20" fill="#ffffff" stroke="#2e7c2e" stroke-width="1.00"/>
<g fill="#74b574" opacity="0.90">
<rect x="174.90" y="175.10" width="4.6" height="8.10"/>
<use href="#xs" x="177.20" y="175.50"/>
<use href="#xs" x="177.20" y="177.32"/>
<use href="#xs" x="177.20" y="179.15"/>
<use href="#xs" x="177.20" y="180.98"/>
<use href="#xs" x="177.20" y="182.80"/>
</g>
<use href="#xs" x="177.20" y="179.90" fill="#2e7c2e" fill-opacity="0.25"/>
<use href="#xs" x="177.20" y="182.80" fill="#2e7c2e" fill-opacity="0.25"/>
<use href="#xh" x="177.20" y="181.90" fill="#ffffff" stroke="#2e7c2e" stroke-width="1.00"/>
<g fill="#74b574" opacity="0.90">
<rect x="181.50" y="176.40" width="4.6" height="9.20"/>
<use href="#xs" x="183.80" y="176.80"/>
<use href="#xs" x="183.80" y="178.90"/>
<use href="#xs" x="183.80" y="181.00"/>
<use href="#xs" x="183.80" y="183.10"/>
<use href="#xs" x="183.80" y="185.20"/>
</g>
<use href="#xs" x="183.80" y="180.70" fill="#2e7c2e" fill-opacity="0.25"/>
<use href="#xs" x="183.80" y="184.70" fill="#2e7c2e" fill-opacity="0.25"/>
<use href="#xh" x="183.80" y="182.70" fill="#ffffff" stroke="#2e7c2e" stroke-width="1.00"/>
<line x1="41.60" y1="150.20" x2="48.60" y2="150.20" stroke="#333333" stroke-width="0.9"/>
<line x1="41.60" y1="185.90" x2="48.60" y2="185.90" stroke="#333333" stroke-width="0.9"/>
<line x1="41.60" y1="221.60" x2="48.60" y2="221.60" stroke="#333333" stroke-width="0.9"/>
<line x1="41.60" y1="210.85" x2="45.10" y2="210.85" stroke="#333333" stroke-width="0.8"/>
<line x1="41.60" y1="204.57" x2="45.10" y2="204.57" stroke="#333333" stroke-width="0.8"/>
<line x1="41.60" y1="200.11" x2="45.10" y2="200.11" stroke="#333333" stroke-width="0.8"/>
<line x1="41.60" y1="196.65" x2="45.10" y2="196.65" stroke="#333333" stroke-width="0.8"/>
<line x1="41.60" y1="193.82" x2="45.10" y2="193.82" stroke="#333333" stroke-width="0.8"/>
<line x1="41.60" y1="191.43" x2="45.10" y2="191.43" stroke="#333333" stroke-width="0.8"/>
<line x1="41.60" y1="189.36" x2="45.10" y2="189.36" stroke="#333333" stroke-width="0.8"/>
<line x1="41.60" y1="187.53" x2="45.10" y2="187.53" stroke="#333333" stroke-width="0.8"/>
<line x1="41.60" y1="175.15" x2="45.10" y2="175.15" stroke="#333333" stroke-width="0.8"/>
<line x1="41.60" y1="168.87" x2="45.10" y2="168.87" stroke="#333333" stroke-width="0.8"/>
<line x1="41.60" y1="164.41" x2="45.10" y2="164.41" stroke="#333333" stroke-width="0.8"/>
<line x1="41.60" y1="160.95" x2="45.10" y2="160.95" stroke="#333333" stroke-width="0.8"/>
<line x1="41.60" y1="158.12" x2="45.10" y2="158.12" stroke="#333333" stroke-width="0.8"/>
<line x1="41.60" y1="155.73" x2="45.10" y2="155.73" stroke="#333333" stroke-width="0.8"/>
<line x1="41.60" y1="153.66" x2="45.10" y2="153.66" stroke="#333333" stroke-width="0.8"/>
<line x1="41.60" y1="151.83" x2="45.10" y2="151.83" stroke="#333333" stroke-width="0.8"/>
<line x1="41.60" y1="139.45" x2="45.10" y2="139.45" stroke="#333333" stroke-width="0.8"/>
<line x1="48.22" y1="221.60" x2="48.22" y2="218.20" stroke="#333333" stroke-width="0.9"/>
<line x1="54.60" y1="221.60" x2="54.60" y2="214.60" stroke="#333333" stroke-width="0.9"/>
<line x1="60.98" y1="221.60" x2="60.98" y2="218.20" stroke="#333333" stroke-width="0.9"/>
<line x1="67.36" y1="221.60" x2="67.36" y2="218.20" stroke="#333333" stroke-width="0.9"/>
<line x1="73.74" y1="221.60" x2="73.74" y2="218.20" stroke="#333333" stroke-width="0.9"/>
<line x1="80.12" y1="221.60" x2="80.12" y2="214.60" stroke="#333333" stroke-width="0.9"/>
<line x1="86.50" y1="221.60" x2="86.50" y2="218.20" stroke="#333333" stroke-width="0.9"/>
<line x1="92.88" y1="221.60" x2="92.88" y2="218.20" stroke="#333333" stroke-width="0.9"/>
<line x1="99.26" y1="221.60" x2="99.26" y2="218.20" stroke="#333333" stroke-width="0.9"/>
<line x1="105.64" y1="221.60" x2="105.64" y2="214.60" stroke="#333333" stroke-width="0.9"/>
<line x1="112.02" y1="221.60" x2="112.02" y2="218.20" stroke="#333333" stroke-width="0.9"/>
<line x1="118.40" y1="221.60" x2="118.40" y2="218.20" stroke="#333333" stroke-width="0.9"/>
<line x1="124.78" y1="221.60" x2="124.78" y2="218.20" stroke="#333333" stroke-width="0.9"/>
<line x1="131.16" y1="221.60" x2="131.16" y2="214.60" stroke="#333333" stroke-width="0.9"/>
<line x1="137.54" y1="221.60" x2="137.54" y2="218.20" stroke="#333333" stroke-width="0.9"/>
<line x1="143.92" y1="221.60" x2="143.92" y2="218.20" stroke="#333333" stroke-width="0.9"/>
<line x1="150.30" y1="221.60" x2="150.30" y2="218.20" stroke="#333333" stroke-width="0.9"/>
<line x1="156.68" y1="221.60" x2="156.68" y2="214.60" stroke="#333333" stroke-width="0.9"/>
<line x1="163.06" y1="221.60" x2="163.06" y2="218.20" stroke="#333333" stroke-width="0.9"/>
<line x1="169.44" y1="221.60" x2="169.44" y2="218.20" stroke="#333333" stroke-width="0.9"/>
<line x1="175.82" y1="221.60" x2="175.82" y2="218.20" stroke="#333333" stroke-width="0.9"/>
<line x1="182.20" y1="221.60" x2="182.20" y2="214.60" stroke="#333333" stroke-width="0.9"/>
<line x1="188.58" y1="221.60" x2="188.58" y2="218.20" stroke="#333333" stroke-width="0.9"/>
<rect x="41.60" y="139.50" width="153.20" height="82.10" fill="none" stroke="#858585" stroke-width="1.05"/>
<text x="54.60" y="236.50" font-size="12.00" text-anchor="middle" fill="#1a1a1a" textLength="19.6" lengthAdjust="spacingAndGlyphs">5.2</text>
<text x="80.12" y="236.50" font-size="12.00" text-anchor="middle" fill="#1a1a1a" textLength="19.6" lengthAdjust="spacingAndGlyphs">5.4</text>
<text x="105.64" y="236.50" font-size="12.00" text-anchor="middle" fill="#1a1a1a" textLength="19.6" lengthAdjust="spacingAndGlyphs">5.6</text>
<text x="131.16" y="236.50" font-size="12.00" text-anchor="middle" fill="#1a1a1a" textLength="19.6" lengthAdjust="spacingAndGlyphs">5.8</text>
<text x="156.68" y="236.50" font-size="12.00" text-anchor="middle" fill="#1a1a1a" textLength="7.4" lengthAdjust="spacingAndGlyphs">6</text>
<text x="182.20" y="236.50" font-size="12.00" text-anchor="middle" fill="#1a1a1a" textLength="19.6" lengthAdjust="spacingAndGlyphs">6.2</text>
<text x="118.20" y="251.90" font-size="11.20" text-anchor="middle" fill="#1a1a1a" textLength="105.2" lengthAdjust="spacingAndGlyphs">Frequency (GHz)</text>
<polygon points="64.00,132.63 62.53,134.10 60.90,132.47 62.37,131.00 60.90,129.53 62.53,127.90 64.00,129.37 65.47,127.90 67.10,129.53 65.63,131.00 67.10,132.47 65.47,134.10" fill="#7dbb7d"/>
<text x="71.30" y="134.40" font-size="9.80" text-anchor="start" fill="#1a1a1a" textLength="10.8" lengthAdjust="spacingAndGlyphs" class="lg">tls</text>
<text x="38.20" y="154.60" font-size="12.40" text-anchor="end" fill="#1a1a1a" textLength="5.4" lengthAdjust="spacingAndGlyphs">1</text>
<text x="38.20" y="190.20" font-size="12.40" text-anchor="end" fill="#1a1a1a" textLength="18.8" lengthAdjust="spacingAndGlyphs">0.1</text>
<text x="38.20" y="226.10" font-size="12.40" text-anchor="end" fill="#1a1a1a" textLength="26.2" lengthAdjust="spacingAndGlyphs">0.01</text>
<text transform="translate(12.7,182.95) rotate(-90)" x="0" y="0" font-size="13" text-anchor="middle" fill="#1a1a1a" textLength="49.3" lengthAdjust="spacingAndGlyphs">δ (x10<tspan font-size="9" dy="-4.9">-6</tspan><tspan dy="4.9">)</tspan></text>
<line x1="204.20" y1="150.20" x2="357.40" y2="150.20" stroke="#eeeeee" stroke-width="1"/>
<line x1="204.20" y1="185.90" x2="357.40" y2="185.90" stroke="#eeeeee" stroke-width="1"/>
<line x1="216.90" y1="139.50" x2="216.90" y2="221.60" stroke="#eeeeee" stroke-width="1"/>
<line x1="242.42" y1="139.50" x2="242.42" y2="221.60" stroke="#eeeeee" stroke-width="1"/>
<line x1="267.94" y1="139.50" x2="267.94" y2="221.60" stroke="#eeeeee" stroke-width="1"/>
<line x1="293.46" y1="139.50" x2="293.46" y2="221.60" stroke="#eeeeee" stroke-width="1"/>
<line x1="318.98" y1="139.50" x2="318.98" y2="221.60" stroke="#eeeeee" stroke-width="1"/>
<line x1="344.50" y1="139.50" x2="344.50" y2="221.60" stroke="#eeeeee" stroke-width="1"/>
<rect x="204.20" y="183.80" width="153.20" height="5.30" fill="#dbeddb"/>
<line x1="204.20" y1="186.50" x2="357.40" y2="186.50" stroke="#3f8f3f" stroke-width="1.2"/>
<g fill="#74b574" opacity="0.90">
<rect x="207.20" y="186.70" width="4.6" height="5.10"/>
<use href="#xs" x="209.50" y="187.10"/>
<use href="#xs" x="209.50" y="189.25"/>
<use href="#xs" x="209.50" y="191.40"/>
</g>
<use href="#xs" x="209.50" y="187.60" fill="#2e7c2e" fill-opacity="0.25"/>
<use href="#xs" x="209.50" y="191.40" fill="#2e7c2e" fill-opacity="0.25"/>
<use href="#xh" x="209.50" y="189.60" fill="#ffffff" stroke="#2e7c2e" stroke-width="1.00"/>
<g fill="#74b574" opacity="0.90">
<rect x="213.70" y="179.90" width="4.6" height="16.00"/>
<use href="#xs" x="216.00" y="180.30"/>
<use href="#xs" x="216.00" y="182.20"/>
<use href="#xs" x="216.00" y="184.10"/>
<use href="#xs" x="216.00" y="186.00"/>
<use href="#xs" x="216.00" y="187.90"/>
<use href="#xs" x="216.00" y="189.80"/>
<use href="#xs" x="216.00" y="191.70"/>
<use href="#xs" x="216.00" y="193.60"/>
<use href="#xs" x="216.00" y="195.50"/>
</g>
<use href="#xs" x="216.00" y="186.90" fill="#2e7c2e" fill-opacity="0.25"/>
<use href="#xs" x="216.00" y="190.90" fill="#2e7c2e" fill-opacity="0.25"/>
<use href="#xh" x="216.00" y="188.90" fill="#ffffff" stroke="#2e7c2e" stroke-width="1.00"/>
<g fill="#74b574" opacity="0.90">
<rect x="232.40" y="181.00" width="4.6" height="8.70"/>
<use href="#xs" x="234.70" y="181.40"/>
<use href="#xs" x="234.70" y="183.38"/>
<use href="#xs" x="234.70" y="185.35"/>
<use href="#xs" x="234.70" y="187.33"/>
<use href="#xs" x="234.70" y="189.30"/>
</g>
<use href="#xs" x="234.70" y="183.50" fill="#2e7c2e" fill-opacity="0.25"/>
<use href="#xs" x="234.70" y="187.50" fill="#2e7c2e" fill-opacity="0.25"/>
<use href="#xh" x="234.70" y="185.50" fill="#ffffff" stroke="#2e7c2e" stroke-width="1.00"/>
<g fill="#74b574" opacity="0.90">
<rect x="238.30" y="180.60" width="4.6" height="11.20"/>
<use href="#xs" x="240.60" y="181.00"/>
<use href="#xs" x="240.60" y="183.08"/>
<use href="#xs" x="240.60" y="185.16"/>
<use href="#xs" x="240.60" y="187.24"/>
<use href="#xs" x="240.60" y="189.32"/>
<use href="#xs" x="240.60" y="191.40"/>
</g>
<use href="#xs" x="240.60" y="184.90" fill="#2e7c2e" fill-opacity="0.25"/>
<use href="#xs" x="240.60" y="188.90" fill="#2e7c2e" fill-opacity="0.25"/>
<use href="#xh" x="240.60" y="186.90" fill="#ffffff" stroke="#2e7c2e" stroke-width="1.00"/>
<g fill="#74b574" opacity="0.90">
<rect x="294.30" y="179.90" width="4.6" height="7.10"/>
<use href="#xs" x="296.60" y="180.30"/>
<use href="#xs" x="296.60" y="182.40"/>
<use href="#xs" x="296.60" y="184.50"/>
<use href="#xs" x="296.60" y="186.60"/>
</g>
<use href="#xs" x="296.60" y="180.30" fill="#2e7c2e" fill-opacity="0.25"/>
<use href="#xs" x="296.60" y="184.10" fill="#2e7c2e" fill-opacity="0.25"/>
<use href="#xh" x="296.60" y="182.10" fill="#ffffff" stroke="#2e7c2e" stroke-width="1.00"/>
<line x1="204.20" y1="150.20" x2="211.20" y2="150.20" stroke="#333333" stroke-width="0.9"/>
<line x1="204.20" y1="185.90" x2="211.20" y2="185.90" stroke="#333333" stroke-width="0.9"/>
<line x1="204.20" y1="221.60" x2="211.20" y2="221.60" stroke="#333333" stroke-width="0.9"/>
<line x1="204.20" y1="210.85" x2="207.70" y2="210.85" stroke="#333333" stroke-width="0.8"/>
<line x1="204.20" y1="204.57" x2="207.70" y2="204.57" stroke="#333333" stroke-width="0.8"/>
<line x1="204.20" y1="200.11" x2="207.70" y2="200.11" stroke="#333333" stroke-width="0.8"/>
<line x1="204.20" y1="196.65" x2="207.70" y2="196.65" stroke="#333333" stroke-width="0.8"/>
<line x1="204.20" y1="193.82" x2="207.70" y2="193.82" stroke="#333333" stroke-width="0.8"/>
<line x1="204.20" y1="191.43" x2="207.70" y2="191.43" stroke="#333333" stroke-width="0.8"/>
<line x1="204.20" y1="189.36" x2="207.70" y2="189.36" stroke="#333333" stroke-width="0.8"/>
<line x1="204.20" y1="187.53" x2="207.70" y2="187.53" stroke="#333333" stroke-width="0.8"/>
<line x1="204.20" y1="175.15" x2="207.70" y2="175.15" stroke="#333333" stroke-width="0.8"/>
<line x1="204.20" y1="168.87" x2="207.70" y2="168.87" stroke="#333333" stroke-width="0.8"/>
<line x1="204.20" y1="164.41" x2="207.70" y2="164.41" stroke="#333333" stroke-width="0.8"/>
<line x1="204.20" y1="160.95" x2="207.70" y2="160.95" stroke="#333333" stroke-width="0.8"/>
<line x1="204.20" y1="158.12" x2="207.70" y2="158.12" stroke="#333333" stroke-width="0.8"/>
<line x1="204.20" y1="155.73" x2="207.70" y2="155.73" stroke="#333333" stroke-width="0.8"/>
<line x1="204.20" y1="153.66" x2="207.70" y2="153.66" stroke="#333333" stroke-width="0.8"/>
<line x1="204.20" y1="151.83" x2="207.70" y2="151.83" stroke="#333333" stroke-width="0.8"/>
<line x1="204.20" y1="139.45" x2="207.70" y2="139.45" stroke="#333333" stroke-width="0.8"/>
<line x1="210.52" y1="221.60" x2="210.52" y2="218.20" stroke="#333333" stroke-width="0.9"/>
<line x1="216.90" y1="221.60" x2="216.90" y2="214.60" stroke="#333333" stroke-width="0.9"/>
<line x1="223.28" y1="221.60" x2="223.28" y2="218.20" stroke="#333333" stroke-width="0.9"/>
<line x1="229.66" y1="221.60" x2="229.66" y2="218.20" stroke="#333333" stroke-width="0.9"/>
<line x1="236.04" y1="221.60" x2="236.04" y2="218.20" stroke="#333333" stroke-width="0.9"/>
<line x1="242.42" y1="221.60" x2="242.42" y2="214.60" stroke="#333333" stroke-width="0.9"/>
<line x1="248.80" y1="221.60" x2="248.80" y2="218.20" stroke="#333333" stroke-width="0.9"/>
<line x1="255.18" y1="221.60" x2="255.18" y2="218.20" stroke="#333333" stroke-width="0.9"/>
<line x1="261.56" y1="221.60" x2="261.56" y2="218.20" stroke="#333333" stroke-width="0.9"/>
<line x1="267.94" y1="221.60" x2="267.94" y2="214.60" stroke="#333333" stroke-width="0.9"/>
<line x1="274.32" y1="221.60" x2="274.32" y2="218.20" stroke="#333333" stroke-width="0.9"/>
<line x1="280.70" y1="221.60" x2="280.70" y2="218.20" stroke="#333333" stroke-width="0.9"/>
<line x1="287.08" y1="221.60" x2="287.08" y2="218.20" stroke="#333333" stroke-width="0.9"/>
<line x1="293.46" y1="221.60" x2="293.46" y2="214.60" stroke="#333333" stroke-width="0.9"/>
<line x1="299.84" y1="221.60" x2="299.84" y2="218.20" stroke="#333333" stroke-width="0.9"/>
<line x1="306.22" y1="221.60" x2="306.22" y2="218.20" stroke="#333333" stroke-width="0.9"/>
<line x1="312.60" y1="221.60" x2="312.60" y2="218.20" stroke="#333333" stroke-width="0.9"/>
<line x1="318.98" y1="221.60" x2="318.98" y2="214.60" stroke="#333333" stroke-width="0.9"/>
<line x1="325.36" y1="221.60" x2="325.36" y2="218.20" stroke="#333333" stroke-width="0.9"/>
<line x1="331.74" y1="221.60" x2="331.74" y2="218.20" stroke="#333333" stroke-width="0.9"/>
<line x1="338.12" y1="221.60" x2="338.12" y2="218.20" stroke="#333333" stroke-width="0.9"/>
<line x1="344.50" y1="221.60" x2="344.50" y2="214.60" stroke="#333333" stroke-width="0.9"/>
<line x1="350.88" y1="221.60" x2="350.88" y2="218.20" stroke="#333333" stroke-width="0.9"/>
<rect x="204.20" y="139.50" width="153.20" height="82.10" fill="none" stroke="#858585" stroke-width="1.05"/>
<text x="216.90" y="236.50" font-size="12.00" text-anchor="middle" fill="#1a1a1a" textLength="19.6" lengthAdjust="spacingAndGlyphs">5.2</text>
<text x="242.42" y="236.50" font-size="12.00" text-anchor="middle" fill="#1a1a1a" textLength="19.6" lengthAdjust="spacingAndGlyphs">5.4</text>
<text x="267.94" y="236.50" font-size="12.00" text-anchor="middle" fill="#1a1a1a" textLength="19.6" lengthAdjust="spacingAndGlyphs">5.6</text>
<text x="293.46" y="236.50" font-size="12.00" text-anchor="middle" fill="#1a1a1a" textLength="19.6" lengthAdjust="spacingAndGlyphs">5.8</text>
<text x="318.98" y="236.50" font-size="12.00" text-anchor="middle" fill="#1a1a1a" textLength="7.4" lengthAdjust="spacingAndGlyphs">6</text>
<text x="344.50" y="236.50" font-size="12.00" text-anchor="middle" fill="#1a1a1a" textLength="19.6" lengthAdjust="spacingAndGlyphs">6.2</text>
<text x="280.80" y="251.90" font-size="11.20" text-anchor="middle" fill="#1a1a1a" textLength="105.2" lengthAdjust="spacingAndGlyphs">Frequency (GHz)</text>
<polygon points="226.60,132.63 225.13,134.10 223.50,132.47 224.97,131.00 223.50,129.53 225.13,127.90 226.60,129.37 228.07,127.90 229.70,129.53 228.23,131.00 229.70,132.47 228.07,134.10" fill="#7dbb7d"/>
<text x="233.90" y="134.40" font-size="9.80" text-anchor="start" fill="#1a1a1a" textLength="10.8" lengthAdjust="spacingAndGlyphs" class="lg">tls</text>
<line x1="366.55" y1="150.20" x2="519.60" y2="150.20" stroke="#eeeeee" stroke-width="1"/>
<line x1="366.55" y1="185.90" x2="519.60" y2="185.90" stroke="#eeeeee" stroke-width="1"/>
<line x1="404.70" y1="139.50" x2="404.70" y2="221.60" stroke="#eeeeee" stroke-width="1"/>
<line x1="481.30" y1="139.50" x2="481.30" y2="221.60" stroke="#eeeeee" stroke-width="1"/>
<rect x="366.55" y="166.90" width="153.05" height="7.60" fill="#dbeddb"/>
<line x1="366.55" y1="171.50" x2="519.60" y2="171.50" stroke="#3f8f3f" stroke-width="1.2"/>
<g fill="#74b574" opacity="0.90">
<rect x="379.00" y="157.50" width="4.6" height="11.40"/>
<use href="#xs" x="381.30" y="157.90"/>
<use href="#xs" x="381.30" y="160.02"/>
<use href="#xs" x="381.30" y="162.14"/>
<use href="#xs" x="381.30" y="164.26"/>
<use href="#xs" x="381.30" y="166.38"/>
<use href="#xs" x="381.30" y="168.50"/>
</g>
<use href="#xs" x="381.30" y="160.10" fill="#2e7c2e" fill-opacity="0.15"/>
<use href="#xs" x="381.30" y="164.10" fill="#2e7c2e" fill-opacity="0.15"/>
<use href="#xh" x="381.30" y="162.10" fill="#ffffff" stroke="#2e7c2e" stroke-width="1.00"/>
<g fill="#74b574" opacity="0.90">
<rect x="388.70" y="161.40" width="4.6" height="17.30"/>
<use href="#xs" x="391.00" y="161.80"/>
<use href="#xs" x="391.00" y="163.86"/>
<use href="#xs" x="391.00" y="165.93"/>
<use href="#xs" x="391.00" y="167.99"/>
<use href="#xs" x="391.00" y="170.05"/>
<use href="#xs" x="391.00" y="172.11"/>
<use href="#xs" x="391.00" y="174.18"/>
<use href="#xs" x="391.00" y="176.24"/>
<use href="#xs" x="391.00" y="178.30"/>
</g>
<use href="#xs" x="391.00" y="172.40" fill="#2e7c2e" fill-opacity="0.15"/>
<use href="#xs" x="391.00" y="176.40" fill="#2e7c2e" fill-opacity="0.15"/>
<use href="#xh" x="391.00" y="174.40" fill="#ffffff" stroke="#2e7c2e" stroke-width="1.00"/>
<g fill="#74b574" opacity="0.90">
<rect x="402.90" y="160.80" width="4.6" height="15.50"/>
<use href="#xs" x="405.20" y="161.20"/>
<use href="#xs" x="405.20" y="163.30"/>
<use href="#xs" x="405.20" y="165.40"/>
<use href="#xs" x="405.20" y="167.50"/>
<use href="#xs" x="405.20" y="169.60"/>
<use href="#xs" x="405.20" y="171.70"/>
<use href="#xs" x="405.20" y="173.80"/>
<use href="#xs" x="405.20" y="175.90"/>
</g>
<use href="#xs" x="405.20" y="169.90" fill="#2e7c2e" fill-opacity="0.15"/>
<use href="#xs" x="405.20" y="173.90" fill="#2e7c2e" fill-opacity="0.15"/>
<use href="#xh" x="405.20" y="171.90" fill="#ffffff" stroke="#2e7c2e" stroke-width="1.00"/>
<g fill="#74b574" opacity="0.90">
<rect x="409.30" y="167.90" width="4.6" height="8.80"/>
<use href="#xs" x="411.60" y="168.30"/>
<use href="#xs" x="411.60" y="170.30"/>
<use href="#xs" x="411.60" y="172.30"/>
<use href="#xs" x="411.60" y="174.30"/>
<use href="#xs" x="411.60" y="176.30"/>
</g>
<use href="#xs" x="411.60" y="171.90" fill="#2e7c2e" fill-opacity="0.15"/>
<use href="#xs" x="411.60" y="175.90" fill="#2e7c2e" fill-opacity="0.15"/>
<use href="#xh" x="411.60" y="173.90" fill="#ffffff" stroke="#2e7c2e" stroke-width="1.00"/>
<g fill="#74b574" opacity="0.90">
<rect x="454.70" y="158.50" width="4.6" height="18.20"/>
<use href="#xs" x="457.00" y="158.90"/>
<use href="#xs" x="457.00" y="160.83"/>
<use href="#xs" x="457.00" y="162.77"/>
<use href="#xs" x="457.00" y="164.70"/>
<use href="#xs" x="457.00" y="166.63"/>
<use href="#xs" x="457.00" y="168.57"/>
<use href="#xs" x="457.00" y="170.50"/>
<use href="#xs" x="457.00" y="172.43"/>
<use href="#xs" x="457.00" y="174.37"/>
<use href="#xs" x="457.00" y="176.30"/>
</g>
<use href="#xs" x="457.00" y="171.00" fill="#2e7c2e" fill-opacity="0.15"/>
<use href="#xs" x="457.00" y="175.00" fill="#2e7c2e" fill-opacity="0.15"/>
<use href="#xh" x="457.00" y="173.00" fill="#ffffff" stroke="#2e7c2e" stroke-width="1.00"/>
<g fill="#74b574" opacity="0.90">
<rect x="493.30" y="160.80" width="4.6" height="13.90"/>
<use href="#xs" x="495.60" y="161.20"/>
<use href="#xs" x="495.60" y="163.07"/>
<use href="#xs" x="495.60" y="164.94"/>
<use href="#xs" x="495.60" y="166.81"/>
<use href="#xs" x="495.60" y="168.69"/>
<use href="#xs" x="495.60" y="170.56"/>
<use href="#xs" x="495.60" y="172.43"/>
<use href="#xs" x="495.60" y="174.30"/>
</g>
<use href="#xs" x="495.60" y="166.00" fill="#2e7c2e" fill-opacity="0.15"/>
<use href="#xs" x="495.60" y="170.00" fill="#2e7c2e" fill-opacity="0.15"/>
<use href="#xh" x="495.60" y="168.00" fill="#ffffff" stroke="#2e7c2e" stroke-width="1.00"/>
<line x1="366.55" y1="150.20" x2="373.55" y2="150.20" stroke="#333333" stroke-width="0.9"/>
<line x1="366.55" y1="185.90" x2="373.55" y2="185.90" stroke="#333333" stroke-width="0.9"/>
<line x1="366.55" y1="221.60" x2="373.55" y2="221.60" stroke="#333333" stroke-width="0.9"/>
<line x1="366.55" y1="210.85" x2="370.05" y2="210.85" stroke="#333333" stroke-width="0.8"/>
<line x1="366.55" y1="204.57" x2="370.05" y2="204.57" stroke="#333333" stroke-width="0.8"/>
<line x1="366.55" y1="200.11" x2="370.05" y2="200.11" stroke="#333333" stroke-width="0.8"/>
<line x1="366.55" y1="196.65" x2="370.05" y2="196.65" stroke="#333333" stroke-width="0.8"/>
<line x1="366.55" y1="193.82" x2="370.05" y2="193.82" stroke="#333333" stroke-width="0.8"/>
<line x1="366.55" y1="191.43" x2="370.05" y2="191.43" stroke="#333333" stroke-width="0.8"/>
<line x1="366.55" y1="189.36" x2="370.05" y2="189.36" stroke="#333333" stroke-width="0.8"/>
<line x1="366.55" y1="187.53" x2="370.05" y2="187.53" stroke="#333333" stroke-width="0.8"/>
<line x1="366.55" y1="175.15" x2="370.05" y2="175.15" stroke="#333333" stroke-width="0.8"/>
<line x1="366.55" y1="168.87" x2="370.05" y2="168.87" stroke="#333333" stroke-width="0.8"/>
<line x1="366.55" y1="164.41" x2="370.05" y2="164.41" stroke="#333333" stroke-width="0.8"/>
<line x1="366.55" y1="160.95" x2="370.05" y2="160.95" stroke="#333333" stroke-width="0.8"/>
<line x1="366.55" y1="158.12" x2="370.05" y2="158.12" stroke="#333333" stroke-width="0.8"/>
<line x1="366.55" y1="155.73" x2="370.05" y2="155.73" stroke="#333333" stroke-width="0.8"/>
<line x1="366.55" y1="153.66" x2="370.05" y2="153.66" stroke="#333333" stroke-width="0.8"/>
<line x1="366.55" y1="151.83" x2="370.05" y2="151.83" stroke="#333333" stroke-width="0.8"/>
<line x1="366.55" y1="139.45" x2="370.05" y2="139.45" stroke="#333333" stroke-width="0.8"/>
<line x1="385.55" y1="221.60" x2="385.55" y2="218.20" stroke="#333333" stroke-width="0.9"/>
<line x1="404.70" y1="221.60" x2="404.70" y2="214.60" stroke="#333333" stroke-width="0.9"/>
<line x1="423.85" y1="221.60" x2="423.85" y2="218.20" stroke="#333333" stroke-width="0.9"/>
<line x1="443.00" y1="221.60" x2="443.00" y2="218.20" stroke="#333333" stroke-width="0.9"/>
<line x1="462.15" y1="221.60" x2="462.15" y2="218.20" stroke="#333333" stroke-width="0.9"/>
<line x1="481.30" y1="221.60" x2="481.30" y2="214.60" stroke="#333333" stroke-width="0.9"/>
<line x1="500.45" y1="221.60" x2="500.45" y2="218.20" stroke="#333333" stroke-width="0.9"/>
<rect x="366.55" y="139.50" width="153.05" height="82.10" fill="none" stroke="#858585" stroke-width="1.05"/>
<text x="404.70" y="236.50" font-size="12.00" text-anchor="middle" fill="#1a1a1a" textLength="27.0" lengthAdjust="spacingAndGlyphs">5.34</text>
<text x="481.30" y="236.50" font-size="12.00" text-anchor="middle" fill="#1a1a1a" textLength="27.0" lengthAdjust="spacingAndGlyphs">5.36</text>
<text x="443.08" y="251.90" font-size="11.20" text-anchor="middle" fill="#1a1a1a" textLength="105.2" lengthAdjust="spacingAndGlyphs">Frequency (GHz)</text>
<polygon points="388.95,132.63 387.48,134.10 385.85,132.47 387.32,131.00 385.85,129.53 387.48,127.90 388.95,129.37 390.42,127.90 392.05,129.53 390.58,131.00 392.05,132.47 390.42,134.10" fill="#7dbb7d"/>
<text x="396.25" y="134.40" font-size="9.80" text-anchor="start" fill="#1a1a1a" textLength="10.8" lengthAdjust="spacingAndGlyphs" class="lg">tls</text>
<line x1="528.70" y1="150.20" x2="671.00" y2="150.20" stroke="#eeeeee" stroke-width="1"/>
<line x1="528.70" y1="185.90" x2="671.00" y2="185.90" stroke="#eeeeee" stroke-width="1"/>
<line x1="557.20" y1="139.50" x2="557.20" y2="221.60" stroke="#eeeeee" stroke-width="1"/>
<line x1="614.20" y1="139.50" x2="614.20" y2="221.60" stroke="#eeeeee" stroke-width="1"/>
<rect x="528.70" y="161.60" width="142.30" height="7.20" fill="#dbeddb"/>
<line x1="528.70" y1="165.50" x2="671.00" y2="165.50" stroke="#3f8f3f" stroke-width="1.2"/>
<g fill="#74b574" opacity="0.90">
<use href="#xs" x="567.60" y="156.70"/>
<rect x="565.30" y="164.20" width="4.6" height="7.50"/>
<use href="#xs" x="567.60" y="164.60"/>
<use href="#xs" x="567.60" y="166.83"/>
<use href="#xs" x="567.60" y="169.07"/>
<use href="#xs" x="567.60" y="171.30"/>
</g>
<use href="#xs" x="567.60" y="167.00" fill="#2e7c2e" fill-opacity="0.20"/>
<use href="#xs" x="567.60" y="171.00" fill="#2e7c2e" fill-opacity="0.20"/>
<use href="#xh" x="567.60" y="169.00" fill="#ffffff" stroke="#2e7c2e" stroke-width="1.00"/>
<g fill="#74b574" opacity="0.90">
<rect x="589.70" y="153.60" width="4.6" height="20.10"/>
<use href="#xs" x="592.00" y="154.00"/>
<use href="#xs" x="592.00" y="155.93"/>
<use href="#xs" x="592.00" y="157.86"/>
<use href="#xs" x="592.00" y="159.79"/>
<use href="#xs" x="592.00" y="161.72"/>
<use href="#xs" x="592.00" y="163.65"/>
<use href="#xs" x="592.00" y="165.58"/>
<use href="#xs" x="592.00" y="167.51"/>
<use href="#xs" x="592.00" y="169.44"/>
<use href="#xs" x="592.00" y="171.37"/>
<use href="#xs" x="592.00" y="173.30"/>
</g>
<use href="#xs" x="592.00" y="160.20" fill="#2e7c2e" fill-opacity="0.20"/>
<use href="#xs" x="592.00" y="164.20" fill="#2e7c2e" fill-opacity="0.20"/>
<use href="#xs" x="592.00" y="166.00" fill="#2e7c2e" fill-opacity="0.20"/>
<use href="#xs" x="592.00" y="170.00" fill="#2e7c2e" fill-opacity="0.20"/>
<use href="#xh" x="592.00" y="162.20" fill="#ffffff" fill-opacity="0.50" stroke="#2e7c2e" stroke-width="1.1"/>
<use href="#xh" x="592.00" y="168.00" fill="#ffffff" stroke="#2e7c2e" stroke-width="1.00"/>
<g fill="#74b574" opacity="0.90">
<use href="#xs" x="605.30" y="147.90"/>
<rect x="603.00" y="155.40" width="4.6" height="13.40"/>
<use href="#xs" x="605.30" y="155.80"/>
<use href="#xs" x="605.30" y="157.90"/>
<use href="#xs" x="605.30" y="160.00"/>
<use href="#xs" x="605.30" y="162.10"/>
<use href="#xs" x="605.30" y="164.20"/>
<use href="#xs" x="605.30" y="166.30"/>
<use href="#xs" x="605.30" y="168.40"/>
</g>
<use href="#xs" x="605.30" y="161.20" fill="#2e7c2e" fill-opacity="0.20"/>
<use href="#xs" x="605.30" y="165.20" fill="#2e7c2e" fill-opacity="0.20"/>
<use href="#xh" x="605.30" y="163.20" fill="#ffffff" stroke="#2e7c2e" stroke-width="1.00"/>
<g fill="#74b574" opacity="0.90">
<rect x="614.50" y="161.70" width="4.6" height="11.00"/>
<use href="#xs" x="616.80" y="162.10"/>
<use href="#xs" x="616.80" y="164.14"/>
<use href="#xs" x="616.80" y="166.18"/>
<use href="#xs" x="616.80" y="168.22"/>
<use href="#xs" x="616.80" y="170.26"/>
<use href="#xs" x="616.80" y="172.30"/>
</g>
<use href="#xs" x="616.80" y="166.80" fill="#2e7c2e" fill-opacity="0.20"/>
<use href="#xs" x="616.80" y="170.80" fill="#2e7c2e" fill-opacity="0.20"/>
<use href="#xh" x="616.80" y="168.80" fill="#ffffff" stroke="#2e7c2e" stroke-width="1.00"/>
<g fill="#74b574" opacity="0.90">
<rect x="623.50" y="155.40" width="4.6" height="13.40"/>
<use href="#xs" x="625.80" y="155.80"/>
<use href="#xs" x="625.80" y="157.90"/>
<use href="#xs" x="625.80" y="160.00"/>
<use href="#xs" x="625.80" y="162.10"/>
<use href="#xs" x="625.80" y="164.20"/>
<use href="#xs" x="625.80" y="166.30"/>
<use href="#xs" x="625.80" y="168.40"/>
</g>
<use href="#xs" x="625.80" y="158.60" fill="#2e7c2e" fill-opacity="0.20"/>
<use href="#xs" x="625.80" y="162.60" fill="#2e7c2e" fill-opacity="0.20"/>
<use href="#xh" x="625.80" y="160.60" fill="#ffffff" stroke="#2e7c2e" stroke-width="1.00"/>
<line x1="528.70" y1="150.20" x2="535.70" y2="150.20" stroke="#333333" stroke-width="0.9"/>
<line x1="528.70" y1="185.90" x2="535.70" y2="185.90" stroke="#333333" stroke-width="0.9"/>
<line x1="528.70" y1="221.60" x2="535.70" y2="221.60" stroke="#333333" stroke-width="0.9"/>
<line x1="528.70" y1="210.85" x2="532.20" y2="210.85" stroke="#333333" stroke-width="0.8"/>
<line x1="528.70" y1="204.57" x2="532.20" y2="204.57" stroke="#333333" stroke-width="0.8"/>
<line x1="528.70" y1="200.11" x2="532.20" y2="200.11" stroke="#333333" stroke-width="0.8"/>
<line x1="528.70" y1="196.65" x2="532.20" y2="196.65" stroke="#333333" stroke-width="0.8"/>
<line x1="528.70" y1="193.82" x2="532.20" y2="193.82" stroke="#333333" stroke-width="0.8"/>
<line x1="528.70" y1="191.43" x2="532.20" y2="191.43" stroke="#333333" stroke-width="0.8"/>
<line x1="528.70" y1="189.36" x2="532.20" y2="189.36" stroke="#333333" stroke-width="0.8"/>
<line x1="528.70" y1="187.53" x2="532.20" y2="187.53" stroke="#333333" stroke-width="0.8"/>
<line x1="528.70" y1="175.15" x2="532.20" y2="175.15" stroke="#333333" stroke-width="0.8"/>
<line x1="528.70" y1="168.87" x2="532.20" y2="168.87" stroke="#333333" stroke-width="0.8"/>
<line x1="528.70" y1="164.41" x2="532.20" y2="164.41" stroke="#333333" stroke-width="0.8"/>
<line x1="528.70" y1="160.95" x2="532.20" y2="160.95" stroke="#333333" stroke-width="0.8"/>
<line x1="528.70" y1="158.12" x2="532.20" y2="158.12" stroke="#333333" stroke-width="0.8"/>
<line x1="528.70" y1="155.73" x2="532.20" y2="155.73" stroke="#333333" stroke-width="0.8"/>
<line x1="528.70" y1="153.66" x2="532.20" y2="153.66" stroke="#333333" stroke-width="0.8"/>
<line x1="528.70" y1="151.83" x2="532.20" y2="151.83" stroke="#333333" stroke-width="0.8"/>
<line x1="528.70" y1="139.45" x2="532.20" y2="139.45" stroke="#333333" stroke-width="0.8"/>
<line x1="534.40" y1="221.60" x2="534.40" y2="218.20" stroke="#333333" stroke-width="0.9"/>
<line x1="545.80" y1="221.60" x2="545.80" y2="218.20" stroke="#333333" stroke-width="0.9"/>
<line x1="557.20" y1="221.60" x2="557.20" y2="214.60" stroke="#333333" stroke-width="0.9"/>
<line x1="568.60" y1="221.60" x2="568.60" y2="218.20" stroke="#333333" stroke-width="0.9"/>
<line x1="580.00" y1="221.60" x2="580.00" y2="218.20" stroke="#333333" stroke-width="0.9"/>
<line x1="591.40" y1="221.60" x2="591.40" y2="218.20" stroke="#333333" stroke-width="0.9"/>
<line x1="602.80" y1="221.60" x2="602.80" y2="218.20" stroke="#333333" stroke-width="0.9"/>
<line x1="614.20" y1="221.60" x2="614.20" y2="214.60" stroke="#333333" stroke-width="0.9"/>
<line x1="625.60" y1="221.60" x2="625.60" y2="218.20" stroke="#333333" stroke-width="0.9"/>
<line x1="637.00" y1="221.60" x2="637.00" y2="218.20" stroke="#333333" stroke-width="0.9"/>
<line x1="648.40" y1="221.60" x2="648.40" y2="218.20" stroke="#333333" stroke-width="0.9"/>
<line x1="659.80" y1="221.60" x2="659.80" y2="218.20" stroke="#333333" stroke-width="0.9"/>
<rect x="528.70" y="139.50" width="142.30" height="82.10" fill="none" stroke="#858585" stroke-width="1.05"/>
<text x="557.20" y="236.50" font-size="12.00" text-anchor="middle" fill="#1a1a1a" textLength="27.0" lengthAdjust="spacingAndGlyphs">4.65</text>
<text x="614.20" y="236.50" font-size="12.00" text-anchor="middle" fill="#1a1a1a" textLength="27.0" lengthAdjust="spacingAndGlyphs">4.66</text>
<text x="671.20" y="236.50" font-size="12.00" text-anchor="middle" fill="#1a1a1a" textLength="27.0" lengthAdjust="spacingAndGlyphs">4.67</text>
<text x="599.85" y="251.90" font-size="11.20" text-anchor="middle" fill="#1a1a1a" textLength="105.2" lengthAdjust="spacingAndGlyphs">Frequency (GHz)</text>
<polygon points="549.80,132.63 548.33,134.10 546.70,132.47 548.17,131.00 546.70,129.53 548.33,127.90 549.80,129.37 551.27,127.90 552.90,129.53 551.43,131.00 552.90,132.47 551.27,134.10" fill="#7dbb7d"/>
<text x="557.10" y="134.40" font-size="9.80" text-anchor="start" fill="#1a1a1a" textLength="10.8" lengthAdjust="spacingAndGlyphs" class="lg">tls</text>
<text x="14.40" y="8.80" font-size="10.40" text-anchor="start" fill="#1a1a1a" textLength="65.4" lengthAdjust="spacingAndGlyphs" class="tt">(a) HT - 30 µm</text>
<text x="193.00" y="8.80" font-size="10.40" text-anchor="start" fill="#1a1a1a" textLength="65.0" lengthAdjust="spacingAndGlyphs" class="tt">(b) RT - 30 µm</text>
<text x="357.00" y="8.80" font-size="10.40" text-anchor="start" fill="#1a1a1a" textLength="58.8" lengthAdjust="spacingAndGlyphs" class="tt">(c) HT - 3 µm</text>
<text x="518.20" y="8.80" font-size="10.40" text-anchor="start" fill="#1a1a1a" textLength="58.4" lengthAdjust="spacingAndGlyphs" class="tt">(d) RT - 3 µm</text>
</svg>
</body></html>
